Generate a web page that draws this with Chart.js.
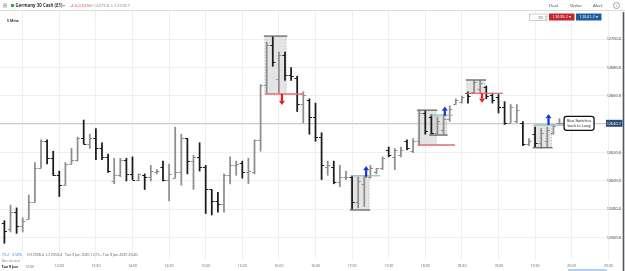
<!DOCTYPE html>
<html><head><meta charset="utf-8">
<script src="https://cdn.jsdelivr.net/npm/chart.js@4.4.0/dist/chart.umd.min.js"></script>
<style>html,body{margin:0;padding:0;background:#fff;overflow:hidden}#wrap{position:relative;width:625px;height:271px}</style>
</head><body><div id="wrap"><canvas id="c"></canvas></div>
<script>
// ---------- DATA ----------
const times = ['12:15','12:20','12:25','12:30','12:35','12:40','12:45','12:50','12:55','13:00',
'13:05','13:10','13:15','13:20','13:25','13:30','13:35','13:40','13:45','13:50','13:55','14:00',
'14:05','14:10','14:15','14:20','14:25','14:30','14:35','14:40','14:45','14:50','14:55','15:00',
'15:05','15:10','15:15','15:20','15:25','15:30','15:35','15:40','15:45','15:50','15:55','16:00',
'16:05','16:10','16:15','16:20','16:25','16:30','16:35','16:40','16:45','16:50','16:55','17:00',
'17:05','17:10','17:15','17:20','17:25','17:30','17:35','17:40','17:45','17:50','17:55','18:00',
'18:05','18:10','18:15','18:20','18:25','18:30','18:35','18:40','18:45','18:50','18:55','19:00',
'19:05','19:10','19:15','19:20','19:25','19:30','19:35','19:40','19:45','19:50'];
const opens  = [12570,12566,12578,12568,12573,12585,12609,12628,12616,12604,12597,12612,12615,12630,12626,12630,12623,12617,12600,12604,12615,12605,12601,12604,12603,12606,12610,12601,12602,12606,12630,12614,12617,12610,12594,12586,12584,12604,12611,12613,12606,12606,12629,12668,12696,12672,12689,12675,12673,12654,12657,12645,12631,12610,12610,12599,12603,12603,12585,12598,12603,12606,12609,12622,12617,12618,12628,12621,12628,12648,12645,12634,12636,12644,12654,12656,12662,12663,12665,12666,12661,12659,12652,12641,12642,12641,12626,12633,12627,12628,12634,12641];
const highs  = [12572,12583,12581,12574,12590,12613,12629,12629,12621,12607,12613,12623,12631,12643,12633,12637,12627,12619,12616,12616,12616,12617,12605,12605,12611,12608,12614,12612,12638,12633,12630,12618,12627,12611,12594,12592,12605,12617,12614,12614,12616,12629,12668,12698,12702,12691,12691,12680,12674,12663,12658,12655,12634,12614,12614,12611,12607,12604,12603,12604,12611,12609,12617,12624,12623,12624,12629,12630,12650,12650,12647,12645,12647,12653,12658,12660,12663,12671,12671,12667,12662,12661,12656,12654,12654,12642,12630,12638,12637,12638,12640,12644];
const lows   = [12556,12564,12563,12564,12573,12585,12609,12612,12604,12589,12597,12612,12614,12626,12623,12615,12615,12606,12598,12603,12600,12601,12600,12594,12600,12605,12600,12586,12602,12597,12605,12594,12607,12577,12576,12578,12578,12598,12604,12602,12598,12605,12621,12662,12681,12662,12671,12671,12649,12641,12633,12628,12601,12604,12598,12596,12601,12580,12581,12582,12602,12605,12608,12617,12608,12617,12622,12620,12625,12633,12633,12633,12633,12642,12654,12655,12655,12662,12662,12658,12655,12648,12640,12641,12641,12625,12625,12624,12623,12624,12633,12640];
const closes = [12565,12578,12568,12572,12585,12609,12628,12616,12604,12597,12612,12615,12630,12626,12630,12623,12617,12607,12604,12615,12605,12601,12605,12603,12607,12607,12601,12605,12606,12630,12614,12617,12610,12594,12586,12584,12604,12611,12612,12606,12607,12629,12668,12696,12684,12689,12675,12674,12654,12661,12645,12631,12611,12611,12599,12603,12603,12585,12600,12603,12609,12609,12616,12618,12622,12622,12623,12628,12648,12635,12634,12642,12644,12651,12657,12659,12660,12670,12669,12660,12657,12652,12641,12652,12650,12626,12628,12627,12634,12636,12639,12641];
const tickLabels = ['12:30','13:00','13:30','14:00','14:30','15:00','15:30','16:00','16:30','17:00','17:30','18:00','18:30','19:00','19:30','20:00','20:30'];
const priceTicks = [12700,12680,12660,12640,12620,12600,12580,12560];
const lastPrice = 12640.7;
const sellPrice = '12639.2', buyPrice = '12641.2';
// pattern zones (x in bar units, prices)
const zoneStart = [42.7, 56.8, 67.8, 69.8, 75.8, 86.8];
const zoneEnd   = [46.2, 59.8, 70.8, 72.5, 78.8, 89.7];
const zoneHigh  = [12702.3, 12603.7, 12650.0, 12646.5, 12671.3, 12639.5];
const zoneLow   = [12661.4, 12579.5, 12625.4, 12632.4, 12661.9, 12623.5];
const zoneBias  = ['short','long','short','long','short','long'];
const signalEnd = [48.9, 61.6, 73.9, 73.5, 81.7, 92.7];
const arrowAt   = [45.5, 59.3, 72.2, 78.3, 89.2];
const arrowFrom = [12661.4, 12603.0, 12646.0, 12661.9, 12639.5];
const arrowTo   = [12653.6, 12610.6, 12652.6, 12655.3, 12647.3];
const calloutAt = 91.75;
const calloutText = ['Bias Switches', 'back to Long'];

// ---------- HELPERS ----------
const idx = t => { const [h, m] = t.split(':').map(Number); return (h * 60 + m - 735) / 5; };
const isUp = i => closes[i] >= opens[i];
const UP = '#8e8e8e', DOWN = '#1c1c1c';
const barColor = i => isUp(i) ? UP : DOWN;
const F = '"Open Sans", "Liberation Sans", sans-serif';

const overlay = {
  id: 'overlay',
  beforeDatasetsDraw(chart) {
    const ctx = chart.ctx, x = chart.scales.x, y = chart.scales.y, a = chart.chartArea;
    ctx.save();
    // current price line
    const yp = Math.round(y.getPixelForValue(lastPrice)) + 0.5;
    ctx.strokeStyle = '#c9ccd4'; ctx.lineWidth = 1;
    ctx.beginPath(); ctx.moveTo(a.left, yp); ctx.lineTo(606, yp); ctx.stroke();
    // zones
    zoneStart.forEach((s, k) => {
      const x0 = x.getPixelForValue(s), x1 = x.getPixelForValue(zoneEnd[k]);
      const y0 = y.getPixelForValue(zoneHigh[k]), y1 = y.getPixelForValue(zoneLow[k]);
      ctx.fillStyle = 'rgba(205,205,205,0.55)';
      ctx.fillRect(x0, y0, x1 - x0, y1 - y0);
      ctx.setLineDash([1.5, 1.5]); ctx.strokeStyle = 'rgba(170,170,170,0.8)'; ctx.lineWidth = 0.8;
      ctx.beginPath(); ctx.moveTo(x0, y0); ctx.lineTo(x0, y1); ctx.moveTo(x1, y0); ctx.lineTo(x1, y1); ctx.stroke();
      ctx.setLineDash([]);
    });
    ctx.restore();
  },
  afterDatasetsDraw(chart) {
    const ctx = chart.ctx, x = chart.scales.x, y = chart.scales.y;
    const meta = chart.getDatasetMeta(0);
    ctx.save();
    // OHLC ticks
    ctx.lineWidth = 1;
    meta.data.forEach((el, i) => {
      ctx.strokeStyle = barColor(i);
      const yo = Math.round(y.getPixelForValue(opens[i])) + 0.5;
      const yc = Math.round(y.getPixelForValue(closes[i])) + 0.5;
      ctx.beginPath();
      ctx.moveTo(el.x - 2.6, yo); ctx.lineTo(el.x, yo);
      ctx.moveTo(el.x, yc); ctx.lineTo(el.x + 2.6, yc);
      ctx.stroke();
    });
    // zone edges and signal lines
    zoneStart.forEach((s, k) => {
      const x0 = x.getPixelForValue(s), x1 = x.getPixelForValue(zoneEnd[k]);
      const short = zoneBias[k] === 'short';
      const yEdge = y.getPixelForValue(short ? zoneHigh[k] : zoneLow[k]);
      const ySig = y.getPixelForValue(short ? zoneLow[k] : zoneHigh[k]);
      ctx.strokeStyle = '#6f6f6f'; ctx.lineWidth = 1.4;
      ctx.beginPath(); ctx.moveTo(x0 - 1, yEdge); ctx.lineTo(x1 + 1, yEdge); ctx.stroke();
      ctx.strokeStyle = short ? '#e26d6d' : '#8fc6bf'; ctx.lineWidth = 1.3;
      ctx.beginPath(); ctx.moveTo(x0, ySig); ctx.lineTo(x.getPixelForValue(signalEnd[k]), ySig); ctx.stroke();
    });
    // arrows
    arrowAt.forEach((ax, k) => {
      const px = x.getPixelForValue(ax);
      const y0 = y.getPixelForValue(arrowFrom[k]), y1 = y.getPixelForValue(arrowTo[k]);
      const up = y1 < y0;
      const col = up ? '#1432e8' : '#ee1c1c';
      const dir = up ? 1 : -1; // head length direction
      ctx.fillStyle = col;
      const headY = y1 + dir * 4.2;
      ctx.fillRect(px - 1.1, Math.min(y0, headY), 2.2, Math.abs(headY - y0));
      ctx.beginPath(); ctx.moveTo(px - 3, headY); ctx.lineTo(px + 3, headY); ctx.lineTo(px, y1); ctx.closePath(); ctx.fill();
    });
    // callout
    const cx = x.getPixelForValue(calloutAt), cy = y.getPixelForValue(lastPrice);
    ctx.strokeStyle = '#9a9a9a'; ctx.lineWidth = 1;
    ctx.beginPath(); ctx.moveTo(meta.data[meta.data.length - 1].x, cy); ctx.lineTo(cx, cy); ctx.stroke();
    ctx.fillStyle = '#fff'; ctx.strokeStyle = '#111'; ctx.lineWidth = 1.3;
    ctx.beginPath(); ctx.roundRect(cx, cy - 7, 30, 14, 2.5); ctx.fill(); ctx.stroke();
    ctx.fillStyle = '#111'; ctx.font = '3.9px ' + F; ctx.textAlign = 'center'; ctx.textBaseline = 'middle';
    ctx.fillText(calloutText[0], cx + 15, cy - 2.5);
    ctx.fillText(calloutText[1], cx + 15, cy + 2.6);
    ctx.restore();
  },
  afterDraw(chart) {
    const ctx = chart.ctx, y = chart.scales.y, x = chart.scales.x;
    ctx.save();
    // price axis labels
    ctx.textAlign = 'right'; ctx.textBaseline = 'middle';
    ctx.font = '3.9px ' + F; ctx.fillStyle = '#333';
    priceTicks.forEach(p => { if (p !== 12640) ctx.fillText(p.toFixed(1), 621, y.getPixelForValue(p)); });
    const yp = y.getPixelForValue(lastPrice);
    ctx.fillStyle = '#2e4c78'; ctx.fillRect(606, yp - 3.5, 16.5, 7);
    ctx.fillStyle = '#fff'; ctx.fillText(lastPrice.toFixed(1), 621, yp + 0.2);
    // header
    ctx.fillStyle = '#fff'; ctx.fillRect(0, 0, 625, 10.5);
    ctx.strokeStyle = '#dcdcdc'; ctx.lineWidth = 1;
    ctx.beginPath(); ctx.moveTo(0, 10.5); ctx.lineTo(625, 10.5); ctx.stroke();
    ctx.strokeStyle = '#777'; ctx.lineWidth = 0.6;
    ctx.beginPath(); [4, 5.5, 7].forEach(v => { ctx.moveTo(3, v); ctx.lineTo(7, v); }); ctx.stroke();
    ctx.fillStyle = '#2aa84a'; ctx.fillRect(11, 4, 3, 3);
    ctx.textAlign = 'left'; ctx.textBaseline = 'middle';
    ctx.font = 'bold 4.4px ' + F; ctx.fillStyle = '#333';
    ctx.fillText('Germany 30 Cash (£1)', 15.5, 5.6);
    ctx.font = '4.2px ' + F; ctx.fillStyle = '#888'; ctx.fillText('▾', 63, 5.6);
    ctx.fillStyle = '#e0443f'; ctx.fillText('-4.5', 70, 5.6); ctx.fillText('-0.04%', 77, 5.6);
    ctx.fillStyle = '#888'; ctx.fillText('H:12673.8  L:12578.7', 89.5, 5.6);
    ctx.font = '4.3px ' + F; ctx.fillStyle = '#333';
    ctx.fillText('Deal', 549, 5.6); ctx.fillText('Order', 570, 5.6); ctx.fillText('Alert', 593, 5.6);
    ctx.strokeStyle = '#666'; ctx.lineWidth = 0.6;
    ctx.beginPath(); ctx.arc(616.5, 5.5, 3, 0, Math.PI * 2); ctx.stroke();
    ctx.textAlign = 'center'; ctx.font = '3.6px ' + F; ctx.fillStyle = '#666'; ctx.fillText('i', 616.5, 5.7);
    // second row
    ctx.textAlign = 'left'; ctx.font = 'bold 3.6px ' + F; ctx.fillStyle = '#333';
    ctx.fillText('5 Mins', 7, 21);
    ctx.fillStyle = '#fff'; ctx.strokeStyle = '#aaa'; ctx.lineWidth = 0.6;
    ctx.fillRect(529.5, 14, 17.5, 6.5); ctx.strokeRect(529.5, 14, 17.5, 6.5);
    ctx.fillStyle = '#333'; ctx.textAlign = 'right'; ctx.font = '4px ' + F; ctx.fillText('10', 542.5, 17.4);
    ctx.fillStyle = '#999'; ctx.font = '2.6px ' + F; ctx.fillText('▴', 546.5, 15.8); ctx.fillText('▾', 546.5, 18.8);
    ctx.fillStyle = '#c4262e'; ctx.fillRect(549, 13.5, 25.5, 7);
    ctx.fillStyle = '#1f5d9e'; ctx.fillRect(576, 13.5, 25.5, 7);
    ctx.fillStyle = '#fff'; ctx.textAlign = 'center'; ctx.font = '4.1px ' + F;
    ctx.fillText(sellPrice + ' ▾', 561.7, 17.2); ctx.fillText(buyPrice + ' ▾', 588.7, 17.2);
    // bottom info
    ctx.textAlign = 'left'; ctx.font = '3.6px ' + F;
    ctx.fillStyle = '#3d86d6'; ctx.fillText('73.2', 2, 255); ctx.fillText('0.58%', 12, 255);
    ctx.fillStyle = '#555'; ctx.fillText('H:12558.4', 27, 255); ctx.fillText('L:12550.4', 46, 255);
    ctx.fillText('Tue 9 Jun 2020 12:15 - Tue 9 Jun 2020 20:40', 65, 255);
    ctx.font = '2.8px ' + F; ctx.fillStyle = '#777'; ctx.fillText('Bars selected', 2, 261.5);
    ctx.font = 'bold 3.6px ' + F; ctx.fillStyle = '#222'; ctx.fillText('Tue 9 Jun', 1.5, 266.5);
    ctx.font = '3.6px ' + F; ctx.fillStyle = '#666'; ctx.fillText(tickLabels[0], 25, 266.5);
    // right scrollbar & bottom marker
    ctx.strokeStyle = '#50585f'; ctx.lineWidth = 1.6;
    ctx.beginPath(); ctx.moveTo(623.5, 12); ctx.lineTo(623.5, 271); ctx.stroke();
    ctx.strokeStyle = '#6ea2dc'; ctx.lineWidth = 1;
    ctx.beginPath(); ctx.moveTo(568, 270); ctx.lineTo(607, 270); ctx.stroke();
    ctx.restore();
  }
};

new Chart(document.getElementById('c'), {
  type: 'bar',
  data: {
    datasets: [{
      data: times.map((t, i) => ({ x: idx(t), y: [lows[i], highs[i]] })),
      backgroundColor: times.map((t, i) => barColor(i)),
      borderWidth: 0,
      barThickness: 1.1,
      grouped: false
    }]
  },
  options: {
    responsive: true, maintainAspectRatio: false, animation: false, devicePixelRatio: 1,
    layout: { padding: { top: 11, left: 0, right: 0, bottom: 0 } },
    plugins: { legend: { display: false }, tooltip: { enabled: false } },
    scales: {
      x: {
        type: 'linear', offset: false, min: -0.721, max: 101.74,
        grid: { color: '#efefef', lineWidth: 1, offset: false, drawTicks: false },
        border: { display: false },
        afterBuildTicks: ax => { ax.ticks = tickLabels.map(l => ({ value: idx(l) })); },
        afterFit: ax => { ax.height = 11; },
        ticks: {
          autoSkip: false, maxRotation: 0, padding: 3.5, color: '#666',
          font: { size: 3.6, family: F },
          callback: v => { const k = tickLabels.findIndex(l => idx(l) === v); return k > 0 ? tickLabels[k] : ''; }
        }
      },
      y: {
        position: 'right', min: 12544.2, max: 12720,
        grid: { color: '#efefef', lineWidth: 1, drawTicks: false },
        border: { display: false },
        afterBuildTicks: ax => { ax.ticks = priceTicks.map(v => ({ value: v })); },
        afterFit: ax => { ax.width = 0; },
        ticks: { display: false }
      }
    }
  },
  plugins: [overlay]
});
</script>
</body></html>
